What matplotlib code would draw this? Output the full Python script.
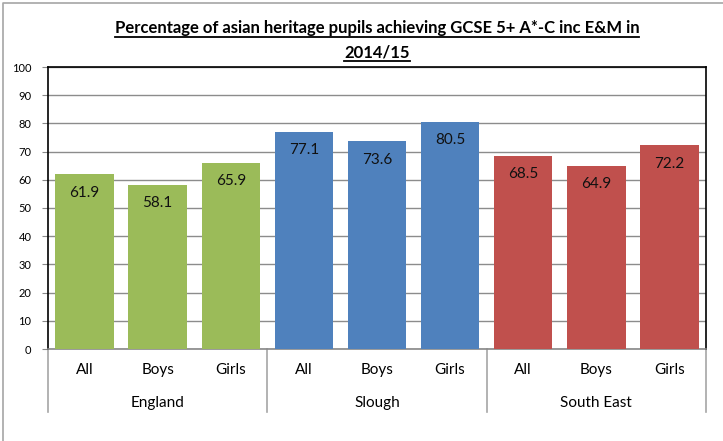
import matplotlib
matplotlib.use("Agg")
import matplotlib.pyplot as plt
from matplotlib.lines import Line2D

groups = ["England", "Slough", "South East"]
subcats = ["All", "Boys", "Girls"]
values = [[61.9, 58.1, 65.9], [77.1, 73.6, 80.5], [68.5, 64.9, 72.2]]
colors = ["#9BBB59", "#4F81BD", "#C0504D"]
title_lines = ["Percentage of asian heritage pupils achieving GCSE 5+ A*-C inc E&M in", "2014/15"]

plt.rcParams['font.family'] = ['Lato', 'DejaVu Sans']

fig = plt.figure(figsize=(7.23, 4.41), dpi=100)
ax = fig.add_axes([48/723, 1-349/441, (706-48)/723, (349-67)/441])

x = 0
for gi, (g, vals) in enumerate(zip(groups, values)):
    for si, v in enumerate(vals):
        ax.bar(x, v, width=0.8, color=colors[gi], zorder=3)
        ax.text(x, v - 6.5, f"{v:.1f}", ha="center", va="center", fontsize=11, color="#111111", zorder=4)
        x += 1

n = x
ax.set_xlim(-0.5, n - 0.5)
ax.set_ylim(0, 100)
ax.set_yticks(range(0, 101, 10))
ax.tick_params(axis="y", labelsize=8, length=4, color="#888888", pad=8)
ax.set_xticks([])
ax.grid(axis="y", color="#8c8c8c", linewidth=1, zorder=0)
for s in ["top", "right", "left"]:
    ax.spines[s].set_color("black")
    ax.spines[s].set_linewidth(1.2)
ax.spines["bottom"].set_color("#888888")
ax.spines["bottom"].set_linewidth(1.2)

# category labels
trans = ax.get_xaxis_transform()
for i in range(n):
    ax.text(i, -0.075, subcats[i % 3], transform=trans, ha="center", va="center", fontsize=11)
for gi, g in enumerate(groups):
    ax.text(gi * 3 + 1, -0.19, g, transform=trans, ha="center", va="center", fontsize=11)
for b in range(len(groups) + 1):
    xb = b * 3 - 0.5
    ax.add_line(Line2D([xb, xb], [0, -0.225], transform=trans, color="#a6a6a6", linewidth=1.2, clip_on=False))

# title with underline
cx = (48 + 706) / 2 / 723
ys = [1 - 28/441, 1 - 52/441]
fig.canvas.draw()
renderer = fig.canvas.get_renderer()
for line, y in zip(title_lines, ys):
    t = fig.text(cx, y, line, ha="center", va="center", fontsize=12, fontweight="bold")
    bb = t.get_window_extent(renderer=renderer)
    x0, x1 = bb.x0 / 723, bb.x1 / 723
    yu = (bb.y0 - 1) / 441
    fig.add_artist(Line2D([x0, x1], [yu, yu], transform=fig.transFigure, color="black", linewidth=1.3))

# outer chart border (left & top visible)
fig.add_artist(Line2D([3/723, 3/723, 1], [0, 1-3/441, 1-3/441], transform=fig.transFigure, color="#a6a6a6", linewidth=1.2))

fig.savefig("out.png", dpi=100)
